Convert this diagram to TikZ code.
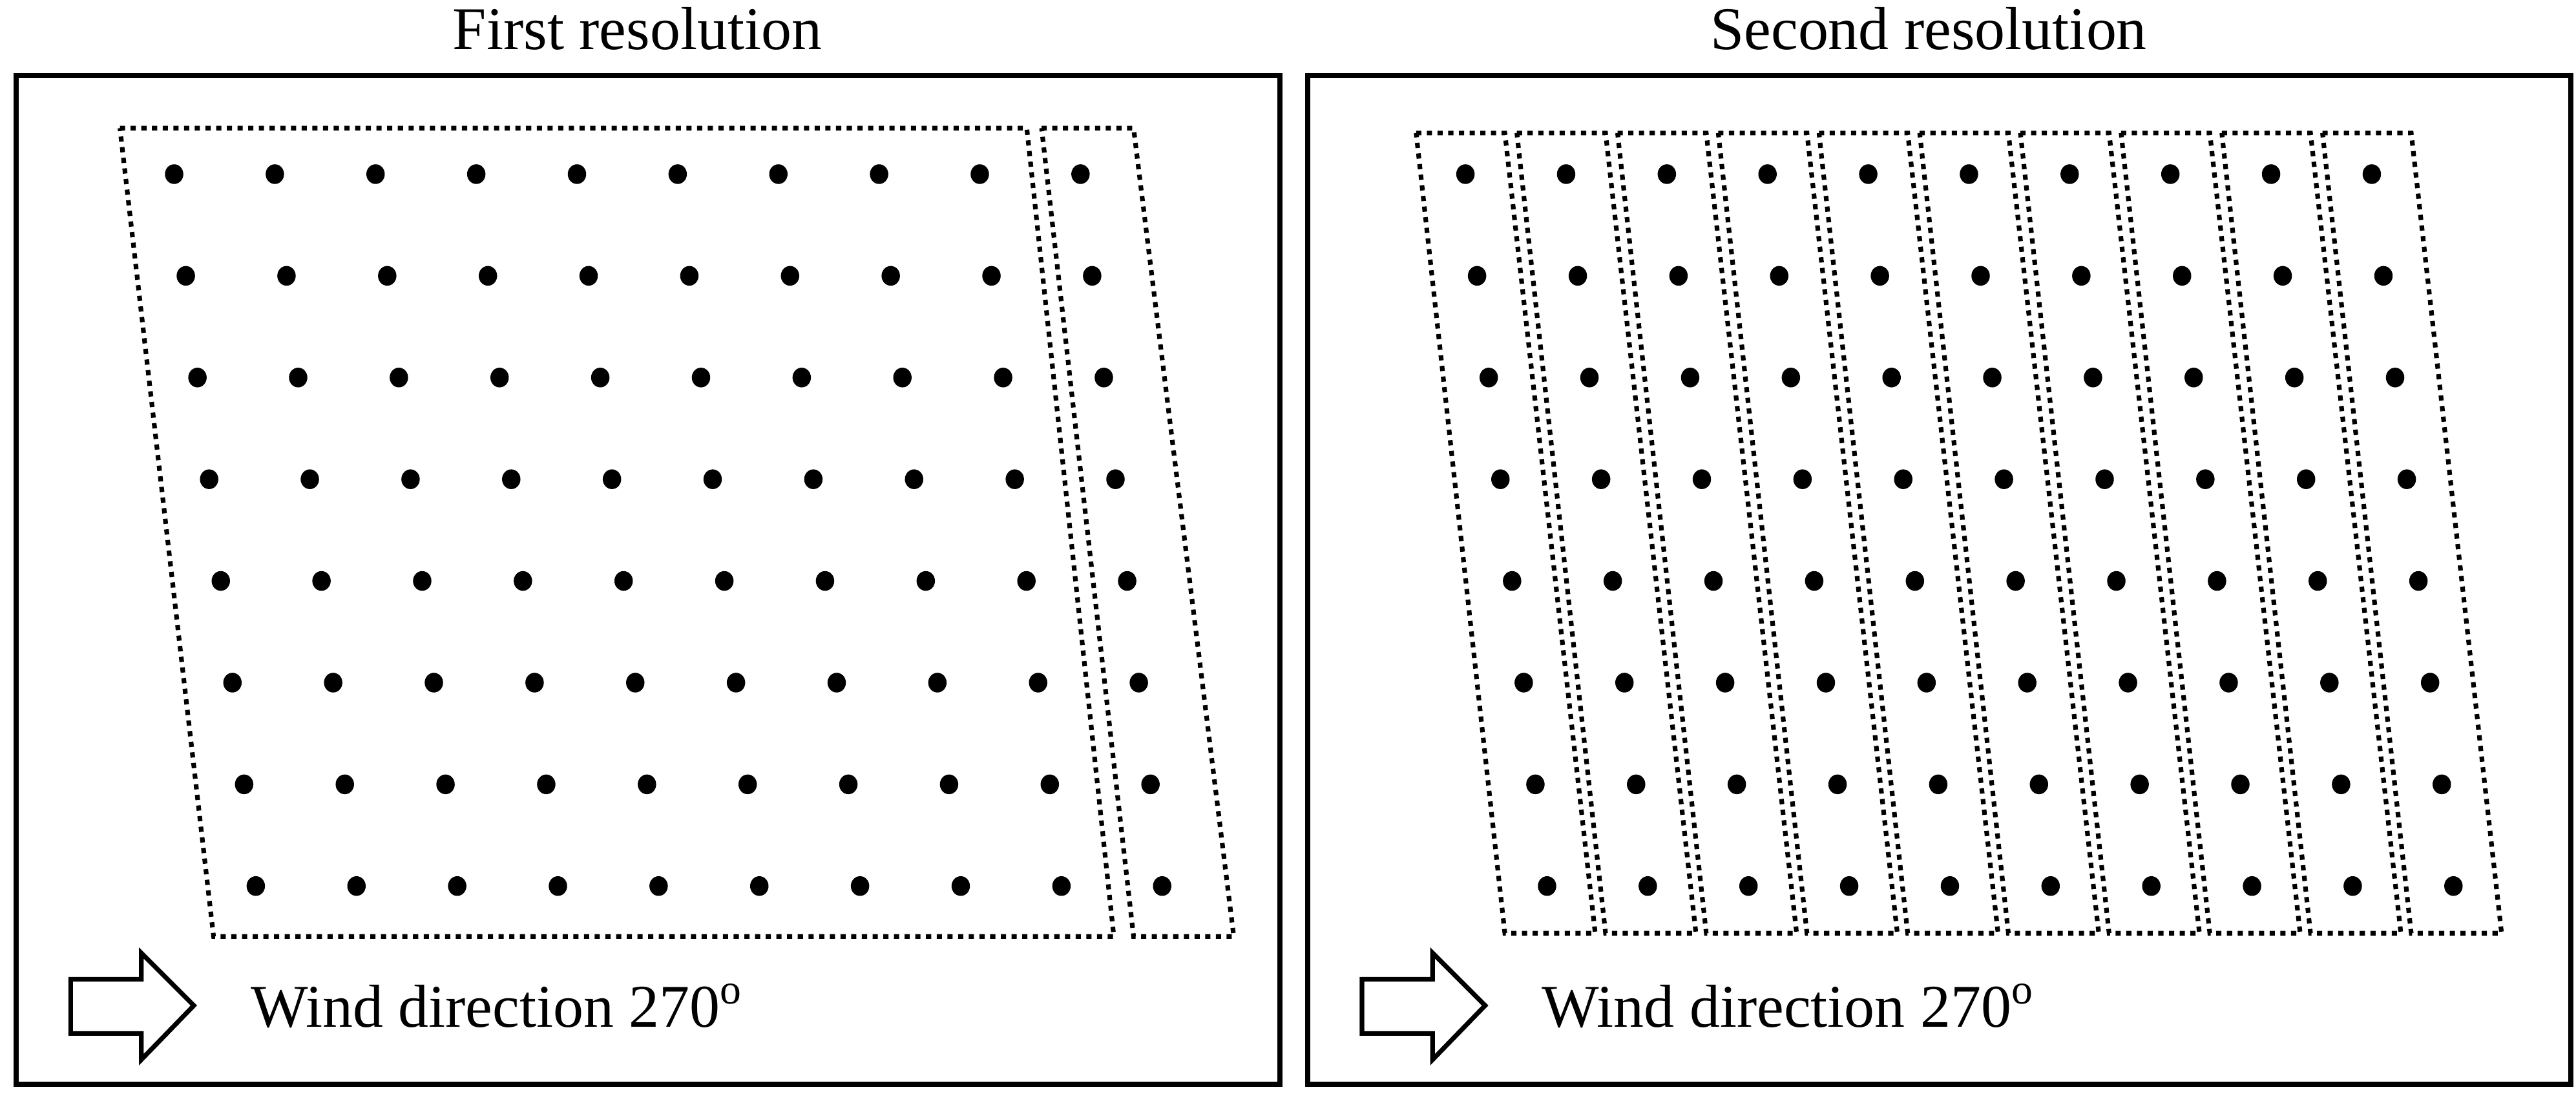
\documentclass[tikz,border=0pt]{standalone}
\usepackage{fontspec}
\setmainfont{Liberation Serif}
\begin{document}
\begin{tikzpicture}[x=0.01cm,y=-0.01cm,
  frame/.style={line width=0.9pt},
  dotbox/.style={line width=0.8pt,dash pattern=on 0.9pt off 0.95pt},
  pt/.style={fill=black},
  lbl/.style={font=\fontsize{10.5}{12}\selectfont,inner sep=0pt},
  warrow/.style={line width=0.8pt}]
\useasboundingbox (0,0) rectangle (1568,671);
\foreach \o/\t in {0/First resolution,786/Second resolution}{
  \begin{scope}[xshift=\o*0.01cm]
  \draw[frame] (10,46) rectangle (779,660);
  \node[lbl,anchor=base] (title) at (388,30) {\t};
  \draw[warrow] (43,596) -- (86,596) -- (86,580) -- (118,612) -- (86,645) -- (86,629) -- (43,629) -- cycle;
  \node[lbl,anchor=base west] (wind) at (152,625) {Wind direction 270\textsuperscript{o}};
  \foreach \r in {0,...,7}{
    \foreach \c in {0,...,9}{
      \fill[pt] ({106+61.3*\c+7.1*\r},{106+61.9*\r}) ellipse (5.6 and 6);
    }
  }
  \end{scope}
}
% first resolution regions
\draw[dotbox] (73,78) -- (625,78) -- (678,570) -- (130,570) -- cycle;
\draw[dotbox] (634,78) -- (690,78) -- (751,570) -- (690,570) -- cycle;
% second resolution strips
\foreach \c in {0,...,9}{
  \draw[dotbox] ({892+61.3*\c-30},81) -- ({892+61.3*\c+24},81) -- ({941+61.3*\c+30},568) -- ({941+61.3*\c-25},568) -- cycle;
}
\end{tikzpicture}
\end{document}
